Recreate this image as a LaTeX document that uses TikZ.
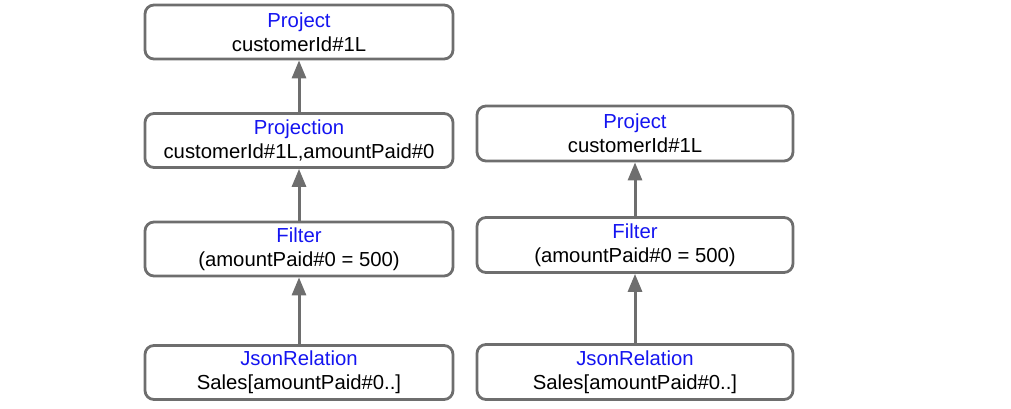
\documentclass[tikz,border=0pt]{standalone}
\usepackage{fontspec}
\setmainfont{Liberation Sans}
\usetikzlibrary{arrows.meta}
\definecolor{linegray}{RGB}{110,110,110}
\definecolor{titleblue}{RGB}{20,20,240}
\newcommand{\opname}[1]{\textcolor{titleblue}{#1}}

\begin{document}
\begin{tikzpicture}[x=1pt, y=1pt,
    op/.style={draw=linegray, line width=2.8pt, rounded corners=9pt, align=center,
      font=\fontsize{20.3}{24}\selectfont, inner sep=0pt},
    opl/.style={op, minimum width=308pt, minimum height=54pt},
    opr/.style={op, minimum width=316pt, minimum height=55pt},
    flow/.style={draw=linegray, line width=3pt, -{Triangle[length=18pt,width=14pt]}}]
    \useasboundingbox (0,0) rectangle (1011,409);
    % left plan
    \node[opl] (a) at (299, 377) {\opname{Project}\\customerId\#1L};
    \node[opl] (b) at (299, 268.5) {\opname{Projection}\\customerId\#1L,amountPaid\#0};
    \node[opl] (c) at (299, 160) {\opname{Filter}\\(amountPaid\#0 = 500)};
    \node[opl] (d) at (299, 36.5) {\opname{JsonRelation}\\Sales[amountPaid\#0..]};
    % right plan
    \node[opr] (e) at (635, 275.5) {\opname{Project}\\customerId\#1L};
    \node[opr] (f) at (635, 164) {\opname{Filter}\\(amountPaid\#0 = 500)};
    \node[opr] (g) at (635, 37) {\opname{JsonRelation}\\Sales[amountPaid\#0..]};
    \draw [flow] (b) to (a);
    \draw [flow] (c) to (b);
    \draw [flow] (d) to (c);
    \draw [flow] (f) to (e);
    \draw [flow] (g) to (f);
  \end{tikzpicture}
\end{document}
